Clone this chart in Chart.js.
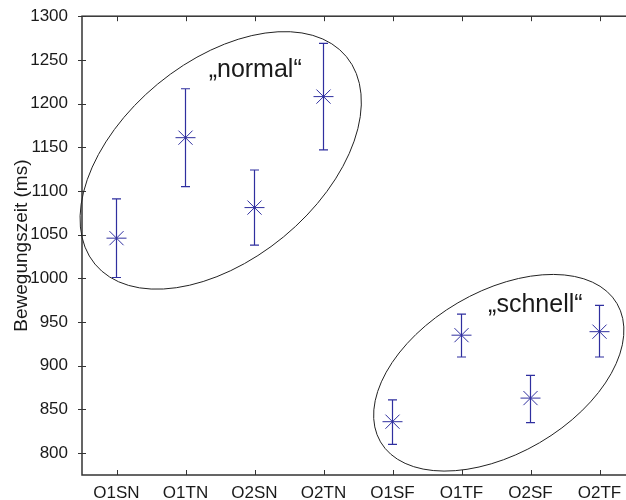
<!DOCTYPE html>
<html lang="de">
<head>
    <meta charset="UTF-8">
    <title>Bewegungszeit</title>
    <style>
        * { margin: 0; padding: 0; box-sizing: border-box; }
        body { background: #fff; overflow: hidden; width: 626px; height: 500px; }
        .wrap { width: 645px; height: 500px; }
    </style>
</head>
<body>
<div class="wrap"><canvas id="chart"></canvas></div>

<script src="https://cdn.jsdelivr.net/npm/chart.js"></script>
<script>
    // Werte
    const categories = ["O1SN", "O1TN", "O2SN", "O2TN", "O1SF", "O1TF", "O2SF", "O2TF"];
    const means = [1046, 1161, 1081, 1208, 836, 935, 863, 939];
    const lower = [1001, 1105, 1038, 1147, 810, 910, 835, 910];
    const upper = [1091, 1217, 1124, 1269, 861, 959, 889, 969];
    const yTicks = [800, 850, 900, 950, 1000, 1050, 1100, 1150, 1200, 1250, 1300];

    const blue = "#2f2f9f";
    const axisColor = "#333";
    const textColor = "#1a1a1a";
    const fontFamily = "'Liberation Sans', Arial, sans-serif";

    // Fehlerbalken
    const errorBars = {
        id: "errorBars",
        beforeDatasetsDraw(chart) {
            const { ctx, scales: { x, y } } = chart;
            ctx.save();
            ctx.strokeStyle = blue;
            ctx.lineWidth = 1.2;
            categories.forEach((c, i) => {
                const px = x.getPixelForValue(i);
                const yl = y.getPixelForValue(lower[i]);
                const yu = y.getPixelForValue(upper[i]);
                ctx.beginPath();
                ctx.moveTo(px, yl); ctx.lineTo(px, yu);
                ctx.moveTo(px - 4.5, yl); ctx.lineTo(px + 4.5, yl);
                ctx.moveTo(px - 4.5, yu); ctx.lineTo(px + 4.5, yu);
                ctx.stroke();
            });
            ctx.restore();
        }
    };

    // Rahmen und Ticks (MATLAB-Stil)
    const boxAxes = {
        id: "boxAxes",
        afterDraw(chart) {
            const { ctx, chartArea: a, scales: { x, y } } = chart;
            ctx.save();
            ctx.strokeStyle = axisColor;
            ctx.lineWidth = 1.5;
            ctx.strokeRect(a.left, a.top, a.right - a.left, a.bottom - a.top);
            ctx.lineWidth = 1;
            ctx.beginPath();
            x.ticks.forEach((t, i) => {
                const px = Math.round(x.getPixelForTick(i)) + 0.5;
                ctx.moveTo(px, a.bottom); ctx.lineTo(px, a.bottom - 5);
                ctx.moveTo(px, a.top); ctx.lineTo(px, a.top + 5);
            });
            y.ticks.forEach((t, i) => {
                const py = Math.round(y.getPixelForTick(i)) + 0.5;
                ctx.moveTo(a.left - 4, py); ctx.lineTo(a.left + 4, py);
                ctx.moveTo(a.right, py); ctx.lineTo(a.right - 5, py);
            });
            ctx.stroke();
            ctx.restore();
        }
    };

    // Ellipsen und Beschriftungen
    const groups = {
        id: "groups",
        afterDraw(chart) {
            const { ctx, scales: { x, y } } = chart;
            ctx.save();
            ctx.strokeStyle = "#222";
            ctx.lineWidth = 1;
            ctx.beginPath();
            ctx.ellipse(x.getPixelForValue(1.51), y.getPixelForValue(1135), 163, 99, -39.5 * Math.PI / 180, 0, 2 * Math.PI);
            ctx.stroke();
            ctx.beginPath();
            ctx.ellipse(x.getPixelForValue(5.54), y.getPixelForValue(892), 137, 81, -30.3 * Math.PI / 180, 0, 2 * Math.PI);
            ctx.stroke();

            ctx.fillStyle = textColor;
            ctx.font = "25px " + fontFamily;
            ctx.textAlign = "center";
            ctx.textBaseline = "middle";
            ctx.fillText("\u201Enormal\u201C", x.getPixelForValue(2.01), y.getPixelForValue(1238));
            ctx.fillText("\u201Eschnell\u201C", x.getPixelForValue(6.07), y.getPixelForValue(969));
            ctx.restore();
        }
    };

    new Chart(document.getElementById("chart"), {
        type: "line",
        data: {
            labels: categories,
            datasets: [{
                data: means,
                showLine: false,
                pointStyle: "star",
                pointRadius: 10,
                pointHoverRadius: 10,
                borderWidth: 1,
                borderColor: blue,
                backgroundColor: blue
            }]
        },
        options: {
            responsive: true,
            maintainAspectRatio: false,
            animation: false,
            layout: { padding: { top: 16, right: 6, left: 10, bottom: 0 } },
            plugins: {
                legend: { display: false },
                tooltip: { enabled: false }
            },
            scales: {
                x: {
                    offset: true,
                    grid: { display: false },
                    border: { display: false },
                    afterFit(scale) { scale.height = 25; },
                    ticks: {
                        color: textColor,
                        padding: 0,
                        maxRotation: 0,
                        font: { family: fontFamily, size: 17 }
                    }
                },
                y: {
                    min: 775,
                    max: 1300,
                    grid: { display: false },
                    border: { display: false },
                    afterFit(scale) { scale.width = 72; },
                    afterBuildTicks(scale) {
                        scale.ticks = yTicks.map(v => ({ value: v }));
                    },
                    title: {
                        display: true,
                        text: "Bewegungszeit (ms)",
                        color: textColor,
                        padding: { top: 0, bottom: 2 },
                        font: { family: fontFamily, size: 19 }
                    },
                    ticks: {
                        color: textColor,
                        padding: 6,
                        font: { family: fontFamily, size: 17 },
                        callback: v => String(v)
                    }
                }
            }
        },
        plugins: [errorBars, boxAxes, groups]
    });
</script>
</body>
</html>
